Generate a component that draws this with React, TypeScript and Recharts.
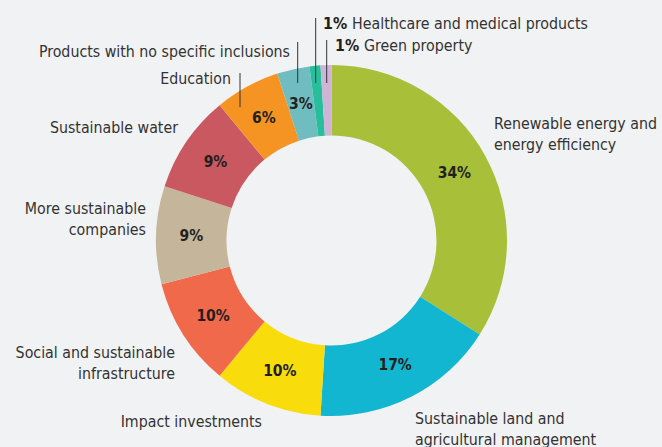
import { PieChart, Pie, Cell } from 'recharts';

const categories = [
  'Renewable energy and energy efficiency',
  'Sustainable land and agricultural management',
  'Impact investments',
  'Social and sustainable infrastructure',
  'More sustainable companies',
  'Sustainable water',
  'Education',
  'Products with no specific inclusions',
  'Healthcare and medical products',
  'Green property',
];

const shares = [34, 17, 10, 10, 9, 9, 6, 3, 1, 1];

const COLORS = [
  '#a8bf3a', '#13b6d0', '#f9dc0b', '#f1694b', '#c5b59a',
  '#c95861', '#f59422', '#6fbcc1', '#27bf9b', '#d0b4d7',
];

// label placement relative to the pie centre
type Layout = {
  lines: string[];
  dx: number;
  dy: number;
  anchor: 'start' | 'end';
  leader?: { dx: number; y1: number; y2: number };
  prefix?: boolean;
};

const LAYOUT: Layout[] = [
  { lines: ['Renewable energy and', 'energy efficiency'], dx: 162.5, dy: -117.5, anchor: 'start' },
  { lines: ['Sustainable land and', 'agricultural management'], dx: 83.5, dy: 177.5, anchor: 'start' },
  { lines: ['Impact investments'], dx: -69.5, dy: 180.5, anchor: 'end' },
  { lines: ['Social and sustainable', 'infrastructure'], dx: -156.5, dy: 111.5, anchor: 'end' },
  { lines: ['More sustainable', 'companies'], dx: -185.5, dy: -32.5, anchor: 'end' },
  { lines: ['Sustainable water'], dx: -153.5, dy: -113.5, anchor: 'end' },
  { lines: ['Education'], dx: -100.5, dy: -162.5, anchor: 'end', leader: { dx: -91.5, y1: -167.5, y2: -133.5 } },
  { lines: ['Products with no specific inclusions'], dx: -41.5, dy: -189.5, anchor: 'end', leader: { dx: -33.8, y1: -198.5, y2: -157.5 } },
  { lines: ['Healthcare and medical products'], dx: -8.5, dy: -217.5, anchor: 'start', prefix: true, leader: { dx: -15.8, y1: -222.5, y2: -157.5 } },
  { lines: ['Green property'], dx: 3.5, dy: -195.5, anchor: 'start', prefix: true, leader: { dx: -4.8, y1: -200.5, y2: -157.5 } },
];

const data = categories.map((name, i) => ({ name, value: shares[i] }));

const FONT = "'DejaVu Sans Condensed', 'Roboto', sans-serif";
const RAD = Math.PI / 180;

const renderLabel = (props: any) => {
  const { cx, cy, midAngle, innerRadius, outerRadius, index, value } = props;
  const lay = LAYOUT[index];
  const mr = (innerRadius + outerRadius) / 2;
  const ix = cx + mr * Math.cos(-midAngle * RAD);
  const iy = cy + mr * Math.sin(-midAngle * RAD);
  return (
    <g>
      {value >= 3 && (
        <text x={ix} y={iy} textAnchor="middle" dominantBaseline="central"
          fontFamily={FONT} fontSize={15.5} fontWeight="bold" fill="#231f20">
          {`${value}%`}
        </text>
      )}
      {lay.leader && (
        <line x1={cx + lay.leader.dx} x2={cx + lay.leader.dx} y1={cy + lay.leader.y1} y2={cy + lay.leader.y2}
          stroke="#333" strokeWidth={1} />
      )}
      <text textAnchor={lay.anchor} fontFamily={FONT} fontSize={15.8} fill="#333">
        {lay.lines.map((ln, k) => (
          <tspan key={k} x={cx + lay.dx} y={cy + lay.dy + k * 21} dominantBaseline="central">
            {lay.prefix && k === 0 && <tspan fontWeight="bold" fill="#231f20">{`${value}% `}</tspan>}
            {ln}
          </tspan>
        ))}
      </text>
    </g>
  );
};

export default function App() {
  return (
    <div style={{ position: 'fixed', left: 0, top: 0, width: 662, height: 447, background: '#f1f2f4' }}>
      <PieChart width={662} height={447} margin={{ top: 0, right: 0, bottom: 0, left: 0 }}>
        <Pie
          data={data}
          dataKey="value"
          nameKey="name"
          cx={331.5}
          cy={240.5}
          innerRadius={105}
          outerRadius={175.5}
          startAngle={90}
          endAngle={-270}
          stroke="none"
          labelLine={false}
          label={renderLabel}
          isAnimationActive={false}
        >
          {data.map((d, i) => (
            <Cell key={d.name} fill={COLORS[i]} />
          ))}
        </Pie>
      </PieChart>
    </div>
  );
}
